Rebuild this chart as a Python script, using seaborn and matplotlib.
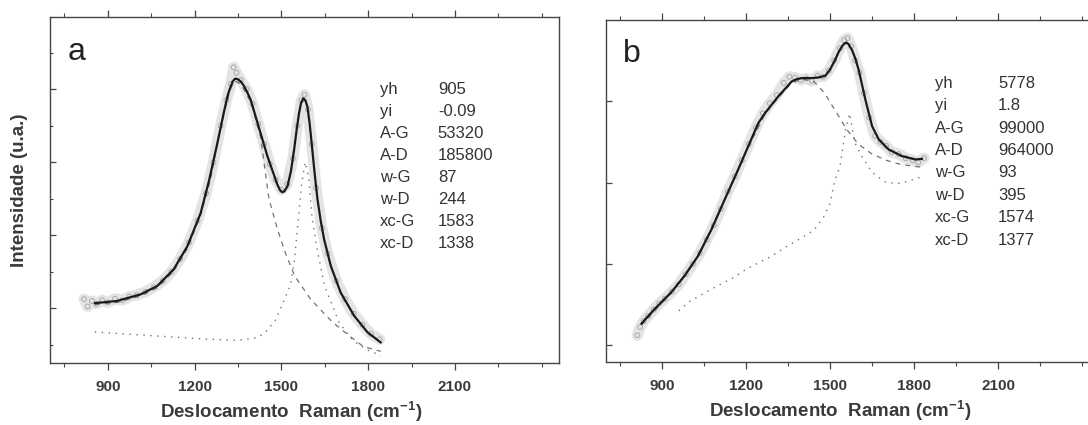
import numpy as np
import pandas as pd
import matplotlib
matplotlib.use("Agg")
import matplotlib.pyplot as plt
import seaborn as sns
from matplotlib.ticker import MultipleLocator, NullFormatter

# ---------------- data (arbitrary intensity units) -------------
# Panel a : fitted curve
fit_a_x = [855, 932, 1013, 1071, 1128, 1175, 1221, 1250, 1278, 1302, 1315, 1325, 1332, 1340,
           1348, 1359, 1370, 1380, 1394, 1428, 1452, 1486, 1495, 1503, 1510, 1521, 1533, 1544,
           1553, 1561, 1568, 1576, 1583, 1590, 1598, 1607, 1615, 1625, 1636, 1648, 1671, 1705,
           1752, 1798, 1844]
fit_a_y = [214, 220, 238, 261, 307, 370, 461, 550, 650, 740, 785, 808, 822, 829,
           828, 822, 810, 795, 771, 680, 616, 539, 524, 518, 520, 534, 575, 634,
           690, 734, 762, 775, 770, 752, 705, 634, 570, 498, 440, 388, 316, 243,
           179, 134, 106]
# Panel a : measured spectrum
raw_a_x = [818, 830, 845, 860, 880, 900, 925, 950, 975, 1000, 1030, 1060, 1090, 1120, 1150,
           1180, 1210, 1240, 1265, 1290, 1310, 1325, 1335, 1345, 1360, 1380, 1400, 1420, 1440,
           1460, 1480, 1500, 1520, 1540, 1555, 1570, 1580, 1592, 1605, 1620, 1640, 1660, 1690,
           1720, 1750, 1780, 1810, 1840]
raw_a_y = [225, 205, 220, 212, 222, 216, 226, 222, 232, 236, 245, 258, 275, 300, 335,
           380, 440, 515, 600, 700, 770, 815, 860, 845, 825, 800, 760, 705, 650,
           595, 552, 525, 540, 610, 700, 770, 785, 745, 650, 530, 420, 350, 275,
           225, 185, 155, 130, 115]
# Panel a : D band (dashed) and G band (dotted) components
d_a_x = [855, 932, 1013, 1071, 1128, 1175, 1221, 1255, 1278, 1302, 1325, 1340, 1359, 1394,
         1428, 1457, 1487, 1514, 1547, 1602, 1674, 1729, 1784, 1844]
d_a_y = [210, 216, 234, 256, 302, 364, 455, 553, 648, 736, 804, 822, 815, 766,
         670, 500, 415, 351, 287, 224, 164, 128, 95, 82]
g_a_x = [855, 950, 1050, 1150, 1250, 1350, 1420, 1448, 1481, 1503, 1531, 1545, 1558, 1570,
         1582, 1594, 1606, 1624, 1650, 1700, 1750, 1800, 1844]
g_a_y = [135, 130, 125, 120, 115, 112, 120, 137, 169, 210, 262, 330, 440, 540,
         600, 560, 450, 360, 260, 160, 110, 85, 70]

# Panel b : fitted curve
fit_b_x = [826, 874, 933, 981, 1029, 1077, 1124, 1172, 1208, 1244, 1268, 1315, 1363, 1380,
           1399, 1435, 1460, 1483, 1500, 1518, 1530, 1542, 1550, 1558, 1566, 1578, 1590, 1602,
           1626, 1650, 1674, 1709, 1757, 1805, 1829]
fit_b_y = [6530, 6897, 7305, 7713, 8203, 8855, 9589, 10324, 10895, 11466, 11711, 12118, 12485,
           12540, 12567, 12567, 12585, 12624, 12780, 13016, 13200, 13342, 13410, 13440, 13400,
           13261, 13050, 12771, 12037, 11384, 11058, 10813, 10650, 10568, 10584]
# Panel b : measured spectrum
raw_b_x = [812, 822, 835, 850, 870, 890, 910, 935, 960, 985, 1010, 1035, 1060, 1085, 1110,
           1135, 1160, 1185, 1210, 1235, 1260, 1285, 1310, 1335, 1355, 1375, 1395, 1415, 1435,
           1455, 1475, 1495, 1515, 1535, 1550, 1562, 1575, 1590, 1605, 1620, 1640, 1660, 1680,
           1700, 1720, 1745, 1770, 1795, 1815, 1835]
raw_b_y = [6250, 6450, 6600, 6720, 6880, 7030, 7150, 7320, 7500, 7750, 8000, 8270, 8600, 8950,
           9350, 9780, 10150, 10550, 10950, 11350, 11700, 11950, 12150, 12450, 12600, 12580,
           12520, 12560, 12500, 12620, 12600, 12750, 13000, 13300, 13500, 13550, 13350, 13000,
           12700, 12200, 11600, 11150, 11000, 10900, 10750, 10700, 10600, 10550, 10500, 10600]
# Panel b : D band (dashed) and G band (dotted) components
d_b_x = [826, 933, 1029, 1124, 1208, 1268, 1315, 1363, 1400, 1440, 1480, 1520, 1560, 1600,
         1650, 1700, 1750, 1800, 1830]
d_b_y = [6500, 7290, 8190, 9570, 10880, 11690, 12090, 12450, 12540, 12500, 12200, 11750,
         11300, 10950, 10700, 10550, 10450, 10400, 10380]
g_b_x = [960, 998, 1096, 1154, 1200, 1292, 1343, 1400, 1442, 1477, 1500, 1517, 1535,
         1555, 1570, 1587, 1610, 1650, 1700, 1750, 1800, 1830]
g_b_y = [6850, 7080, 7457, 7660, 7869, 8197, 8423, 8650, 8829, 9156, 9484, 10061, 10389,
         11300, 11700, 11003, 10676, 10250, 10000, 9980, 10080, 10150]

params_names = ["yh", "yi", "A-G", "A-D", "w-G", "w-D", "xc-G", "xc-D"]
params_a = ["905", "-0.09", "53320", "185800", "87", "244", "1583", "1338"]
params_b = ["5778", "1.8", "99000", "964000", "93", "395", "1574", "1377"]

x_ticks = [900, 1200, 1500, 1800, 2100]
x_label = "Deslocamento  Raman (cm$^{\\mathbf{-1}}$)"
y_label = "Intensidade (u.a.)"

# ---------------- figure -------------
sns.set_theme(style="ticks")
plt.rcParams["font.family"] = ["Liberation Sans", "DejaVu Sans"]
plt.rcParams["mathtext.fontset"] = "custom"
plt.rcParams["mathtext.rm"] = "Liberation Sans"
plt.rcParams["mathtext.bf"] = "Liberation Sans:bold"

fig = plt.figure(figsize=(10.88, 4.25), dpi=100)
ax_a = fig.add_axes([50 / 1088, 62 / 425, 509 / 1088, 346 / 425])
ax_b = fig.add_axes([606 / 1088, 63 / 425, 493 / 1088, 342 / 425])

txt = "#3a3a3a"


def draw(ax, rx, ry, fx, fy, dx, dy, gx, gy):
    sns.lineplot(x=rx, y=ry, ax=ax, color="0.70", lw=8, alpha=0.35, sort=False,
                 solid_capstyle="round")
    sns.scatterplot(x=rx, y=ry, ax=ax, marker="o", s=12, facecolor="none",
                    edgecolor="0.6", linewidth=0.6)
    sns.lineplot(x=dx, y=dy, ax=ax, color="0.45", lw=0.9, sort=False, linestyle=(0, (4, 4)))
    sns.lineplot(x=gx, y=gy, ax=ax, color="0.45", lw=1.0, sort=False, linestyle=(0, (1, 4)))
    sns.lineplot(x=fx, y=fy, ax=ax, color="#1a1a1a", lw=1.6, sort=False)


draw(ax_a, raw_a_x, raw_a_y, fit_a_x, fit_a_y, d_a_x, d_a_y, g_a_x, g_a_y)
draw(ax_b, raw_b_x, raw_b_y, fit_b_x, fit_b_y, d_b_x, d_b_y, g_b_x, g_b_y)

ax_a.set_ylim(50, 998)
ax_a.yaxis.set_major_locator(MultipleLocator(200))
ax_a.yaxis.set_minor_locator(MultipleLocator(100))
ax_b.set_ylim(5592, 13995)
ax_b.yaxis.set_major_locator(MultipleLocator(2000))

for ax in (ax_a, ax_b):
    ax.set_xlim(700, 2460)
    ax.set_xticks(x_ticks)
    ax.xaxis.set_minor_locator(MultipleLocator(150))
    ax.yaxis.set_major_formatter(NullFormatter())
    ax.tick_params(axis="x", which="major", direction="out", length=5, width=0.9,
                   top=True, colors="#444444", labelcolor=txt, labelsize=11, pad=7)
    ax.tick_params(axis="x", which="minor", direction="out", length=3, width=0.8, top=True,
                   colors="#444444")
    ax.tick_params(axis="y", which="major", direction="in", length=4, width=0.9,
                   colors="#444444")
    ax.tick_params(axis="y", which="minor", direction="in", length=2.5, width=0.8,
                   colors="#444444")
    for lab in ax.get_xticklabels():
        lab.set_fontweight("bold")
    for s in ax.spines.values():
        s.set_visible(True)
        s.set_color("#444444")
        s.set_linewidth(1.0)
    ax.set_xlabel(x_label, fontsize=13.5, fontweight="bold", color=txt, labelpad=5)
    ax.xaxis.set_label_coords(0.475, -0.105)
    ax.set_ylabel("")

ax_a.set_ylabel(y_label, fontsize=13.5, fontweight="bold", color=txt, labelpad=12)

ax_a.text(0.035, 0.90, "a", transform=ax_a.transAxes, fontsize=23, color="#222222",
          va="center", ha="left")
ax_b.text(0.035, 0.90, "b", transform=ax_b.transAxes, fontsize=23, color="#222222",
          va="center", ha="left")

for ax, vals, xn, xv, y0, dy in ((ax_a, params_a, 0.648, 0.762, 0.79, 0.0636),
                                 (ax_b, params_b, 0.667, 0.795, 0.815, 0.0655)):
    for i, (n, v) in enumerate(zip(params_names, vals)):
        ax.text(xn, y0 - i * dy, n, transform=ax.transAxes, fontsize=12, color="#333333",
                va="center", ha="left")
        ax.text(xv, y0 - i * dy, v, transform=ax.transAxes, fontsize=12, color="#333333",
                va="center", ha="left")

fig.savefig("out.png", dpi=100)
